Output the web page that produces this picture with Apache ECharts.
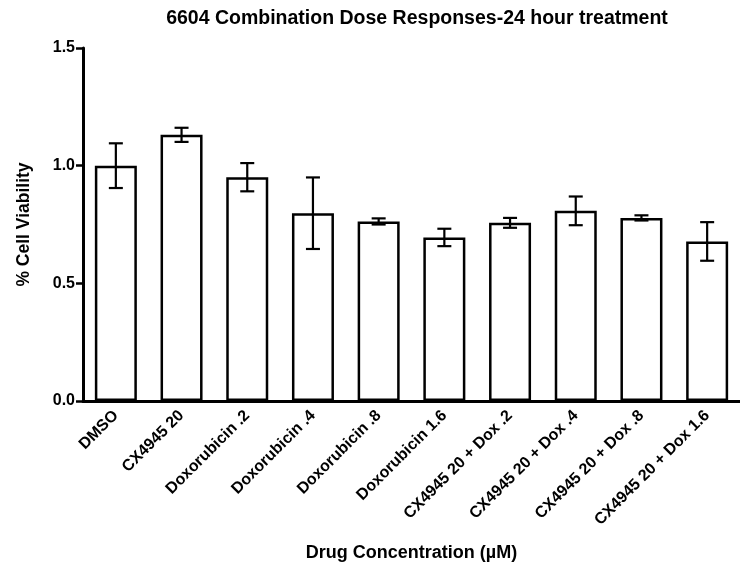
<!DOCTYPE html>
<html>
<head>
<meta charset="utf-8">
<script src="https://cdn.jsdelivr.net/npm/echarts@6/dist/echarts.min.js"></script>
<style>
  html, body { margin: 0; padding: 0; background: #fff; }
  #chart { width: 740px; height: 567px; }
</style>
</head>
<body>
<div id="chart"></div>
<script>
// Treatment groups (µM)
const categories = [
  'DMSO', 'CX4945 20', 'Doxorubicin .2', 'Doxorubicin .4', 'Doxorubicin .8',
  'Doxorubicin 1.6', 'CX4945 20 + Dox .2', 'CX4945 20 + Dox .4',
  'CX4945 20 + Dox .8', 'CX4945 20 + Dox 1.6'
];
// Mean fractional viability per group
const viability = [1.00, 1.131, 0.951, 0.798, 0.763, 0.695, 0.757, 0.808, 0.778, 0.678];
// Error (± SEM) per group
const sem = [0.095, 0.030, 0.060, 0.152, 0.013, 0.037, 0.021, 0.061, 0.011, 0.082];
// Value axis ticks
const yTicks = [0, 0.5, 1.0, 1.5];

const font = '"Liberation Sans", Arial, sans-serif';
const chart = echarts.init(document.getElementById('chart'), null, { renderer: 'canvas' });

const errorData = viability.map((v, i) => [i, v - sem[i], v + sem[i]]);

chart.setOption({
  animation: false,
  backgroundColor: '#ffffff',
  title: {
    text: '6604 Combination Dose Responses-24 hour treatment',
    left: 412,
    top: 4,
    textAlign: 'center',
    textStyle: { fontFamily: font, fontWeight: 'bold', fontSize: 19.5, color: '#000' }
  },
  grid: { left: 83, top: 48, width: 663, bottom: 165, containLabel: false },
  xAxis: {
    type: 'category',
    data: categories,
    name: 'Drug Concentration (µM)',
    nameLocation: 'middle',
    nameGap: 143,
    nameTextStyle: { fontFamily: font, fontWeight: 'bold', fontSize: 18, color: '#000' },
    axisLine: { lineStyle: { color: '#000', width: 3 } },
    axisTick: { alignWithLabel: true, length: 7, lineStyle: { color: '#000', width: 2.5 } },
    axisLabel: {
      interval: 0, rotate: 45, margin: 12,
      fontFamily: font, fontWeight: 'bold', fontSize: 16, color: '#000'
    }
  },
  yAxis: {
    type: 'value',
    min: yTicks[0],
    max: yTicks[yTicks.length - 1],
    interval: 0.5,
    name: '% Cell Viability',
    nameLocation: 'middle',
    nameGap: 50,
    nameTextStyle: { fontFamily: font, fontWeight: 'bold', fontSize: 17.5, color: '#000' },
    axisLine: { show: true, lineStyle: { color: '#000', width: 3 } },
    axisTick: { show: true, length: 7, lineStyle: { color: '#000', width: 2.5 } },
    splitLine: { show: false },
    axisLabel: {
      margin: 8,
      formatter: v => v.toFixed(1),
      fontFamily: font, fontWeight: 'bold', fontSize: 16, color: '#000'
    }
  },
  series: [
    {
      type: 'bar',
      data: viability,
      barWidth: 42,
      itemStyle: { color: '#ffffff', borderColor: '#000', borderWidth: 2.5 },
      z: 2
    },
    {
      type: 'custom',
      data: errorData,
      z: 5,
      renderItem: function (params, api) {
        const x = api.value(0);
        const lo = api.coord([x, api.value(1)]);
        const hi = api.coord([x, api.value(2)]);
        const half = 7;
        const style = { stroke: '#000', lineWidth: 2.2 };
        return {
          type: 'group',
          children: [
            { type: 'line', shape: { x1: lo[0], y1: lo[1], x2: hi[0], y2: hi[1] }, style },
            { type: 'line', shape: { x1: hi[0] - half, y1: hi[1], x2: hi[0] + half, y2: hi[1] }, style },
            { type: 'line', shape: { x1: lo[0] - half, y1: lo[1], x2: lo[0] + half, y2: lo[1] }, style }
          ]
        };
      }
    }
  ]
});
</script>
</body>
</html>
